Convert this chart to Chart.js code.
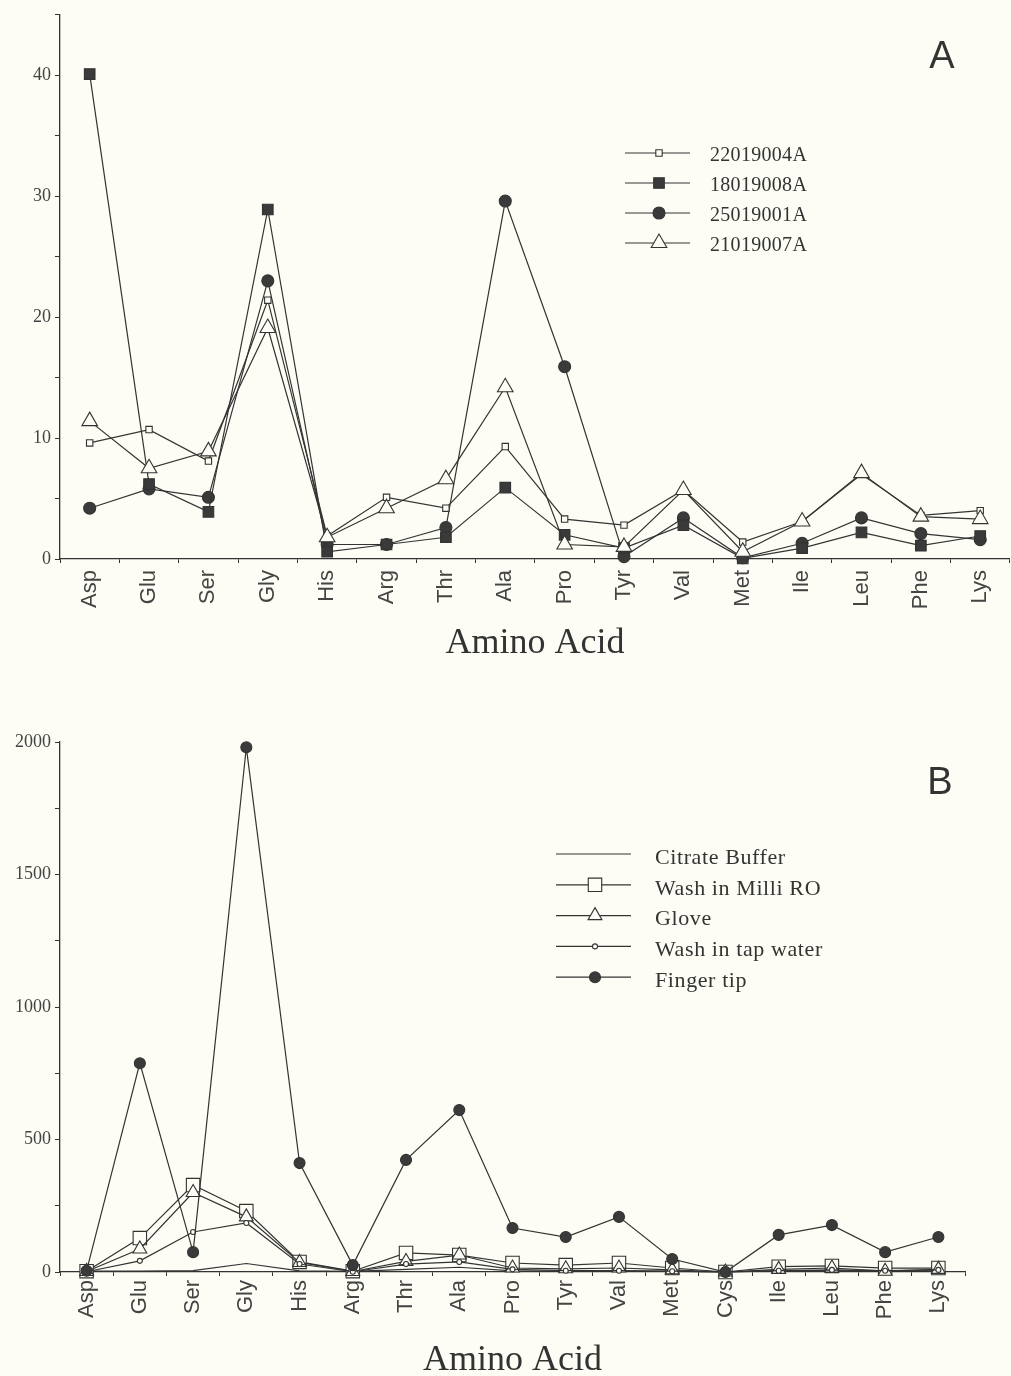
<!DOCTYPE html>
<html><head><meta charset="utf-8">
<script src="https://cdn.jsdelivr.net/npm/chart.js@4.4.1/dist/chart.umd.min.js"></script>
<style>
html,body{margin:0;padding:0;background:#fdfdf5;overflow:hidden;width:1011px;height:1376px;}
canvas{position:absolute;left:0;}
#ca{top:0}
#cb{top:680px}
</style></head><body>
<canvas id="ca" width="1020" height="680"></canvas>
<canvas id="cb" width="1020" height="720"></canvas>
<script>
// ---------- DATA ----------
const aminoA = ['Asp','Glu','Ser','Gly','His','Arg','Thr','Ala','Pro','Tyr','Val','Met','Ile','Leu','Phe','Lys'];
const s22019004A = [9.6,10.7,8.1,21.4,1.9,5.1,4.2,9.3,3.3,2.8,5.7,1.4,3.1,7.0,3.6,4.0];
const s18019008A = [40.1,6.2,3.9,28.9,0.6,1.2,1.8,5.9,2.0,0.9,2.8,0.05,0.9,2.2,1.1,1.9];
const s25019001A = [4.2,5.8,5.1,23.0,1.2,1.2,2.6,29.6,15.9,0.2,3.4,0.1,1.3,3.4,2.1,1.6];
const s21019007A = [11.4,7.5,8.9,19.1,1.8,4.2,6.6,14.2,1.2,1.0,5.7,0.6,3.1,7.1,3.5,3.3];
const yTicksA = [0,10,20,30,40];

const aminoB = ['Asp','Glu','Ser','Gly','His','Arg','Thr','Ala','Pro','Tyr','Val','Met','Cys','Ile','Leu','Phe','Lys'];
const citrateBuffer = [3,3,5,32,4,2,10,18,4,3,3,2,0,4,5,3,4];
const washMilliRO   = [3,128,328,230,38,3,72,64,34,26,34,15,0,20,23,15,15];
const glove         = [2,87,300,208,36,2,40,64,15,12,15,8,0,10,15,3,10];
const washTapWater  = [1,42,151,185,30,1,30,38,10,5,5,3,0,5,8,5,8];
const fingerTip     = [5,788,75,1980,411,26,423,611,166,132,208,49,0,140,177,75,132];
const yTicksB = [0,500,1000,1500,2000];

const xTitle = 'Amino Acid';

// ---------- STYLE ----------
const INK = '#333';
const DARK = '#3a3a3a';
const PAPER = '#fdfdf5';

function drawMarker(ctx, style, x, y, r, fill, stroke, bw) {
  ctx.save();
  ctx.fillStyle = fill; ctx.strokeStyle = stroke; ctx.lineWidth = bw;
  ctx.beginPath();
  if (style === 'rect') {
    const s = r * Math.SQRT1_2;
    ctx.rect(x - s, y - s, 2 * s, 2 * s);
  } else if (style === 'triangle') {
    let a = 0;
    ctx.moveTo(x + Math.sin(a) * r, y - Math.cos(a) * r);
    a += 2 * Math.PI / 3;
    ctx.lineTo(x + Math.sin(a) * r, y - Math.cos(a) * r);
    a += 2 * Math.PI / 3;
    ctx.lineTo(x + Math.sin(a) * r, y - Math.cos(a) * r);
    ctx.closePath();
  } else {
    ctx.arc(x, y, r, 0, Math.PI * 2);
  }
  ctx.fill();
  if (bw > 0) ctx.stroke();
  ctx.restore();
}

const panelPlugin = {
  id: 'panel',
  afterDraw(chart, args, o) {
    const ctx = chart.ctx;
    ctx.save();
    ctx.font = o.letterFont; ctx.fillStyle = INK;
    ctx.textAlign = 'center'; ctx.textBaseline = 'middle';
    ctx.fillText(o.letter, o.letterX, o.letterY);
    const order = o.legendOrder;
    order.forEach((di, i) => {
      const ds = chart.data.datasets[di];
      const y = o.legendY + i * o.legendGap;
      ctx.strokeStyle = INK; ctx.lineWidth = 1.2;
      ctx.beginPath(); ctx.moveTo(o.lineX0, y); ctx.lineTo(o.lineX1, y); ctx.stroke();
      if (ds.pointRadius > 0) drawMarker(ctx, ds.pointStyle, o.markerX, y, ds.pointRadius, ds.pointBackgroundColor, ds.pointBorderColor, ds.pointBorderWidth);
      ctx.fillStyle = INK; ctx.font = o.textFont;
      if ('letterSpacing' in ctx) ctx.letterSpacing = o.spacing;
      ctx.textAlign = 'left'; ctx.textBaseline = 'middle';
      ctx.fillText(ds.label, o.textX, y + o.textDy);
      if ('letterSpacing' in ctx) ctx.letterSpacing = '0px';
    });
    ctx.restore();
  }
};

function line(label, data, style, r, fill, order) {
  return {
    label, data, order,
    borderColor: INK, borderWidth: 1.2, tension: 0, fill: false, clip: false,
    pointStyle: style, pointRadius: r, pointHoverRadius: r,
    pointBackgroundColor: fill, pointBorderColor: INK, pointBorderWidth: 1.1
  };
}

function scales(yMax, yStep, yTicks, tickPad, titlePadBottom) {
  return {
    x: {
      type: 'category', offset: true,
      afterFit(s) { s.height = s.chart.height - s.chart.options.layout.padding.bottom - (s.chart.options._plotBottom); },
      border: { display: true, color: INK, width: 1.3 },
      grid: { offset: true, drawOnChartArea: false, drawTicks: true, tickLength: 4, color: INK, lineWidth: 1 },
      ticks: { autoSkip: false, maxRotation: 90, minRotation: 90, padding: tickPad, color: '#444',
               font: { family: '"Liberation Sans", Arial, sans-serif', size: 22 } },
      title: { display: true, text: xTitle, color: INK,
               font: { family: '"Liberation Serif", "Times New Roman", serif', size: 36 },
               padding: { top: 0, bottom: titlePadBottom } }
    },
    y: {
      min: 0, max: yMax,
      afterFit(s) { s.width = 60; },
      border: { display: true, color: INK, width: 1.3 },
      grid: { drawOnChartArea: false, drawTicks: true, tickLength: 5, color: INK, lineWidth: 1 },
      ticks: { stepSize: yStep, includeBounds: false, padding: 4, color: '#444',
               font: { family: '"Liberation Serif", "Times New Roman", serif', size: 18 },
               callback: v => yTicks.includes(v) ? String(v) : '' }
    }
  };
}

Chart.defaults.animation = false;

// ---------- CHART A ----------
new Chart(document.getElementById('ca'), {
  type: 'line',
  data: {
    labels: aminoA,
    datasets: [
      line('22019004A', s22019004A, 'rect', 4.5, PAPER, 1),
      line('18019008A', s18019008A, 'rect', 7.5, DARK, 2),
      line('25019001A', s25019001A, 'circle', 6, DARK, 3),
      line('21019007A', s21019007A, 'triangle', 9, PAPER, 0)
    ]
  },
  options: {
    responsive: false, animation: false,
    _plotBottom: 559,
    layout: { padding: { top: 12, left: 0, right: 2, bottom: 0 } },
    plugins: {
      legend: { display: false }, tooltip: { enabled: false },
      panel: { letter: 'A', letterX: 942, letterY: 58, letterFont: '38px "Liberation Sans", Arial, sans-serif',
               legendOrder: [0,1,2,3], legendY: 153, legendGap: 30, lineX0: 625, lineX1: 690, markerX: 659,
               textX: 710, textDy: 3, spacing: '0.3px', textFont: '20px "Liberation Serif", "Times New Roman", serif' }
    },
    scales: scales(45, 5, yTicksA, 7, 15)
  },
  plugins: [panelPlugin]
});

// ---------- CHART B ----------
new Chart(document.getElementById('cb'), {
  type: 'line',
  data: {
    labels: aminoB,
    datasets: [
      line('Citrate Buffer', citrateBuffer, 'circle', 0, PAPER, 4),
      line('Wash in Milli RO', washMilliRO, 'rect', 9.5, PAPER, 3),
      line('Glove', glove, 'triangle', 8, PAPER, 2),
      line('Wash in tap water', washTapWater, 'circle', 2.5, PAPER, 1),
      line('Finger tip', fingerTip, 'circle', 5.5, DARK, 0)
    ]
  },
  options: {
    responsive: false, animation: false,
    _plotBottom: 592,
    layout: { padding: { top: 62, left: 0, right: 55, bottom: 0 } },
    plugins: {
      legend: { display: false }, tooltip: { enabled: false },
      panel: { letter: 'B', letterX: 940, letterY: 104, letterFont: '38px "Liberation Sans", Arial, sans-serif',
               legendOrder: [0,1,2,3,4], legendY: 174, legendGap: 30.8, lineX0: 556, lineX1: 631, markerX: 595,
               textX: 655, textDy: 4, spacing: '0.6px', textFont: '22px "Liberation Serif", "Times New Roman", serif' }
    },
    scales: scales(2000, 250, yTicksB, 4, 18)
  },
  plugins: [panelPlugin]
});
</script>
</body></html>
